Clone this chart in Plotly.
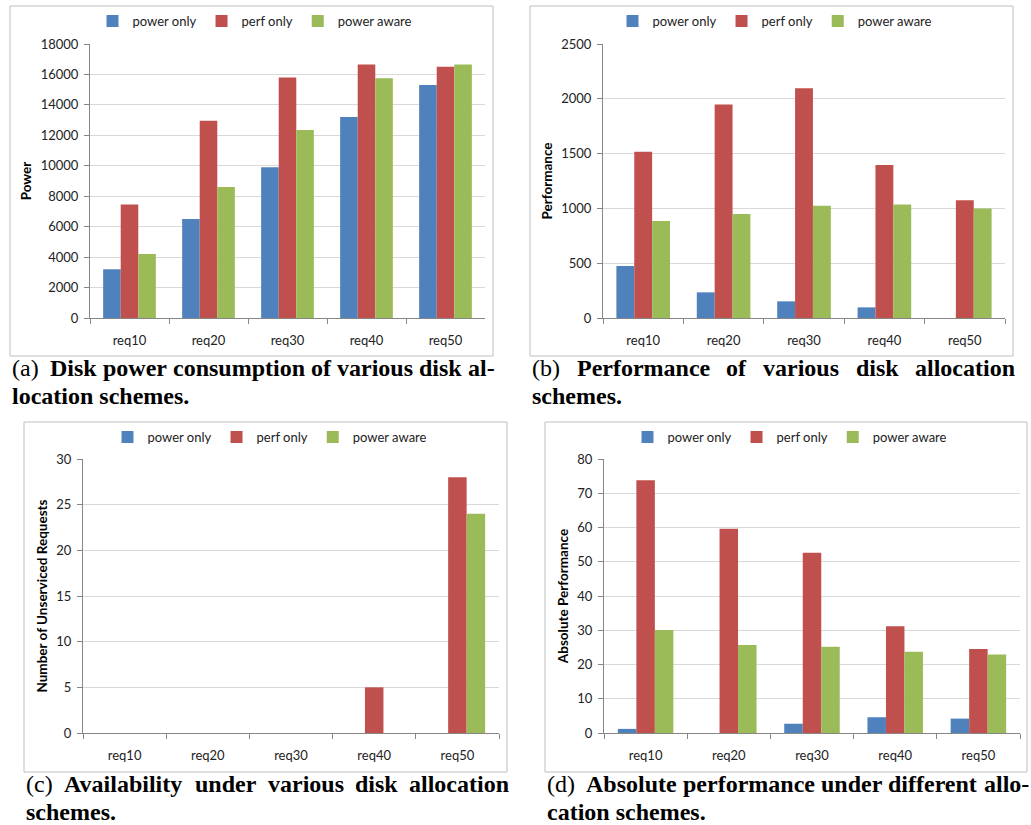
import plotly.graph_objects as go

W, H = 1031, 825

categories = ["req10", "req20", "req30", "req40", "req50"]
series_names = ["power only", "perf only", "power aware"]
colors = ["#4F81BD", "#C0504D", "#9BBB59"]

# (a) Disk power consumption
power_power_only = [3200, 6500, 9900, 13200, 15300]
power_perf_only = [7450, 12950, 15800, 16650, 16500]
power_power_aware = [4200, 8600, 12350, 15750, 16650]

# (b) Performance
perf_power_only = [474, 234, 152, 97, 0]
perf_perf_only = [1516, 1947, 2096, 1397, 1075]
perf_power_aware = [884, 948, 1024, 1036, 999]

# (c) Number of unserviced requests
unserv_power_only = [0, 0, 0, 0, 0]
unserv_perf_only = [0, 0, 0, 5, 28]
unserv_power_aware = [0, 0, 0, 0, 24]

# (d) Absolute performance
abs_power_only = [1.2, 0, 2.7, 4.6, 4.2]
abs_perf_only = [73.8, 59.6, 52.6, 31.2, 24.5]
abs_power_aware = [30.1, 25.7, 25.2, 23.7, 22.9]

y_titles = ["Power", "Performance", "Number of Unserviced Requests", "Absolute Performance"]
y_ranges = [[0, 18000], [0, 2500], [0, 30], [0, 80]]
y_dticks = [2000, 500, 5, 10]

datasets = [
    [power_power_only, power_perf_only, power_power_aware],
    [perf_power_only, perf_perf_only, perf_power_aware],
    [unserv_power_only, unserv_perf_only, unserv_power_aware],
    [abs_power_only, abs_perf_only, abs_power_aware],
]

# layout geometry in pixels
panels = [
    dict(frame=(10, 6, 493, 356), plot=(90, 44, 485, 318), leg=(255, 21)),
    dict(frame=(530, 6, 1013, 356), plot=(603, 44, 1005, 318), leg=(775, 21)),
    dict(frame=(24, 422, 507, 772), plot=(83, 459, 499, 733), leg=(270, 437)),
    dict(frame=(545, 422, 1027, 772), plot=(604, 459, 1020, 733), leg=(790, 437)),
]

captions = [
    dict(y1=368, y2=396, words=[("(a)", 10, False), ("Disk", 47.6, True), ("power", 100.5, True),
                                ("consumption", 170.7, True), ("of", 308.9, True), ("various", 335.1, True),
                                ("disk", 417.3, True), ("al-", 466.2, True)],
         line2=("location schemes.", 10)),
    dict(y1=368, y2=396, words=[("(b)", 530, False), ("Performance", 574.7, True), ("of", 724.3, True),
                                ("various", 761, True), ("disk", 853.7, True), ("allocation", 913, True)],
         line2=("schemes.", 530)),
    dict(y1=784, y2=812, words=[("(c)", 24, False), ("Availability", 61.9, True), ("under", 193.2, True),
                                ("various", 265.8, True), ("disk", 353.1, True), ("allocation", 407.1, True)],
         line2=("schemes.", 24)),
    dict(y1=784, y2=812, words=[("(d)", 545, False), ("Absolute", 584, True), ("performance", 680.8, True),
                                ("under", 818.9, True), ("different", 886.3, True), ("allo-", 981.7, True)],
         line2=("cation schemes.", 545)),
]

def px(x):
    return x / W

def py(y):
    return 1 - y / H

FONT = "Lato"
fig = go.Figure()
layout = dict(
    width=W, height=H, margin=dict(l=0, r=0, t=0, b=0, autoexpand=False),
    paper_bgcolor="white", plot_bgcolor="white",
    barmode="group", bargap=0.333, bargroupgap=0,
    font=dict(family=FONT, size=13, color="#000000"),
    shapes=[], annotations=[],
)

for i, (panel, data) in enumerate(zip(panels, datasets)):
    n = "" if i == 0 else str(i + 1)
    xa, ya = "x" + n, "y" + n
    leg = "legend" + n
    for name, vals, col in zip(series_names, data, colors):
        fig.add_trace(go.Bar(
            x=categories, y=vals, name=name, marker=dict(color=col, line=dict(width=0)),
            xaxis=xa, yaxis=ya, legend=leg, showlegend=True,
        ))
    x0, y0, x1, y1 = panel["plot"]
    layout["xaxis" + n] = dict(
        domain=[px(x0), px(x1)], anchor=ya, type="category", range=[-0.5, 4.5],
        showline=True, linecolor="#868686", linewidth=1,
        ticks="outside", tickson="boundaries", ticklen=5, tickcolor="#868686",
        showgrid=False, ticklabelstandoff=10, tickfont=dict(size=13, color="#222"),
    )
    layout["yaxis" + n] = dict(
        domain=[py(y1), py(y0)], anchor=xa, range=y_ranges[i], dtick=y_dticks[i],
        tickformat="d",
        showline=True, linecolor="#868686", linewidth=1,
        ticks="outside", ticklen=5, tickcolor="#868686",
        showgrid=True, gridcolor="#D9D9D9", gridwidth=1, zeroline=False,
        ticklabelstandoff=3, tickfont=dict(size=13, color="#222"),
        title=dict(text="<b>%s</b>" % y_titles[i], standoff=5, font=dict(size=13.5, color="#000")),
    )
    lx, ly = panel["leg"]
    layout[leg] = dict(
        orientation="h", x=px(lx), y=py(ly), xanchor="center", yanchor="middle",
        xref="paper", yref="paper", font=dict(size=13, color="#222"),
        bgcolor="rgba(0,0,0,0)", itemwidth=30, traceorder="normal",
    )
    fx0, fy0, fx1, fy1 = panel["frame"]
    layout["shapes"].append(dict(
        type="rect", xref="paper", yref="paper", x0=px(fx0), x1=px(fx1), y0=py(fy1), y1=py(fy0),
        line=dict(color="#BFBFBF", width=1), fillcolor="rgba(0,0,0,0)", layer="below",
    ))

SERIF = "Liberation Serif"
for cap in captions:
    for word, x, bold in cap["words"]:
        layout["annotations"].append(dict(
            text=("<b>%s</b>" % word) if bold else word, x=px(x), y=py(cap["y1"]),
            xref="paper", yref="paper", xanchor="left", yanchor="middle", showarrow=False,
            font=dict(family=SERIF, size=24, color="#000"),
        ))
    t, x = cap["line2"]
    layout["annotations"].append(dict(
        text="<b>%s</b>" % t, x=px(x), y=py(cap["y2"]),
        xref="paper", yref="paper", xanchor="left", yanchor="middle", showarrow=False,
        font=dict(family=SERIF, size=24, color="#000"),
    ))

fig.update_layout(**layout)
post = (
    "document.body.style.margin='0px';"
    "var gd=document.getElementById('{plot_id}');"
    "gd.style.position='fixed';gd.style.left='0px';gd.style.top='0px';"
)
fig.write_html("out.html", post_script=post, config={"displayModeBar": False})
